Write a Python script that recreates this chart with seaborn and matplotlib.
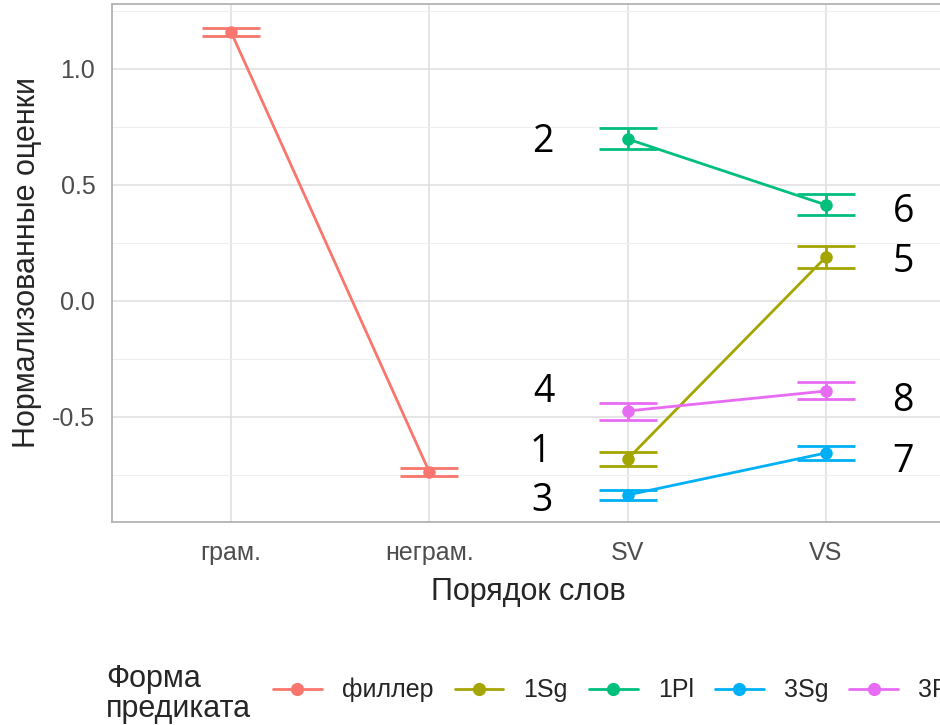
import numpy as np
import pandas as pd
import matplotlib.pyplot as plt
from matplotlib.lines import Line2D
import seaborn as sns

# ── Данные ─────────────────────────────────────────────────────
ORDER = ['грам.', 'неграм.', 'SV', 'VS']
FORMS = ['филлер', '1Sg', '1Pl', '3Sg', '3Pl']
COLORS = ['#F8766D', '#A3A500', '#00BF7D', '#00B0F6', '#E76BF3']

group = ['филлер', 'филлер', '1Sg', '1Sg', '1Pl', '1Pl', '3Sg', '3Sg', '3Pl', '3Pl']
order = ['грам.', 'неграм.', 'SV', 'VS', 'SV', 'VS', 'SV', 'VS', 'SV', 'VS']
mean = [1.160, -0.737, -0.681, 0.190, 0.698, 0.414, -0.836, -0.655, -0.474, -0.388]
low = [1.142, -0.755, -0.711, 0.142, 0.655, 0.371, -0.858, -0.685, -0.513, -0.422]
high = [1.178, -0.719, -0.651, 0.237, 0.746, 0.461, -0.814, -0.625, -0.440, -0.349]

# подписи-номера условий
num_text = ['2', '6', '5', '4', '8', '1', '7', '3']
num_x = [1.57, 3.39, 3.39, 1.58, 3.39, 1.56, 3.39, 1.57]
num_y = [0.685, 0.384, 0.168, -0.392, -0.431, -0.651, -0.694, -0.862]

df = pd.DataFrame({'group': group, 'order': order, 'mean': mean,
                   'low': low, 'high': high})
df['x'] = df['order'].map({k: i for i, k in enumerate(ORDER)})
palette = dict(zip(FORMS, COLORS))

sns.set_style('white')
plt.rcParams['font.family'] = ['Liberation Sans', 'DejaVu Sans']

fig = plt.figure(figsize=(9.4, 7.25), dpi=100)
ax = fig.add_axes([112 / 940, 203 / 725, 833 / 940, 518 / 725])

# ── Линии и точки ─────────────────────────────────────────────
sns.lineplot(data=df, x='x', y='mean', hue='group', hue_order=FORMS,
             palette=palette, marker='o', markersize=9, markeredgewidth=0,
             linewidth=2, errorbar=None, legend=False, ax=ax, zorder=3)

# ── Доверительные интервалы ───────────────────────────────────
for _, r in df.iterrows():
    ax.errorbar(r['x'], r['mean'],
                yerr=[[r['mean'] - r['low']], [r['high'] - r['mean']]],
                fmt='none', ecolor=palette[r['group']], elinewidth=2,
                capsize=21, capthick=2, zorder=3)

for t, x, y in zip(num_text, num_x, num_y):
    ax.text(x, y, t, fontsize=27, family=['Open Sans', 'DejaVu Sans'],
            ha='center', va='center', color='black')

# ── Оформление ────────────────────────────────────────────────
ax.set_xlim(-0.6, 3.6)
ax.set_ylim(-0.9526, 1.28)
ax.set_xticks(range(len(ORDER)))
ax.set_xticklabels(ORDER)
ax.set_yticks([-0.5, 0.0, 0.5, 1.0])
ax.set_yticklabels(['-0.5', '0.0', '0.5', '1.0'])
ax.set_yticks([-0.75, -0.25, 0.25, 0.75, 1.25], minor=True)
ax.grid(True, which='major', color='#DEDEDE', linewidth=1.1)
ax.grid(True, which='minor', axis='y', color='#EFEFEF', linewidth=0.8)
ax.set_axisbelow(True)
for s in ax.spines.values():
    s.set_color('#B3B3B3')
    s.set_linewidth(1.3)
ax.tick_params(axis='both', which='major', length=6, width=1, color='#B3B3B3',
               labelsize=18, labelcolor='#4D4D4D', pad=6)
ax.tick_params(axis='x', which='major', pad=8)
ax.tick_params(axis='both', which='minor', length=0)
ax.set_xlabel('Порядок слов', fontsize=22, labelpad=8)
ax.set_ylabel('Нормализованные оценки', fontsize=22, labelpad=7)

# ── Легенда ────────────────────────────────────────────────────
fig.text(106 / 940, 1 - 694 / 725, 'Форма\nпредиката', fontsize=22,
         ha='left', va='center', linespacing=1.0)
handles = [Line2D([], [], color=c, marker='o', markersize=9.5,
                  markeredgewidth=0, linewidth=2) for c in COLORS]
fig.legend(handles, FORMS, loc='center left', ncol=5, frameon=False,
           bbox_to_anchor=(273 / 940, 1 - 690 / 725), fontsize=18,
           handlelength=1.95, handletextpad=0.8, columnspacing=0.85,
           borderaxespad=0, borderpad=0)

plt.savefig('out.png', dpi=100)
